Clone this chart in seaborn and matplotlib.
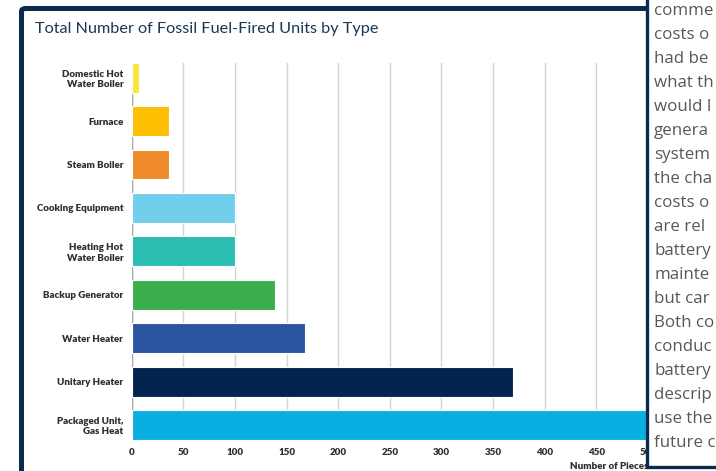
import matplotlib
matplotlib.use("Agg")
import matplotlib.pyplot as plt
import seaborn as sns
import pandas as pd
from matplotlib.patches import Rectangle, FancyBboxPatch

# ---- data ----
categories = ["Domestic Hot\nWater Boiler", "Furnace", "Steam Boiler", "Cooking Equipment",
              "Heating Hot\nWater Boiler", "Backup Generator", "Water Heater",
              "Unitary Heater", "Packaged Unit,\nGas Heat"]
counts = [7, 36, 36, 100, 100, 139, 168, 369, 498]
bar_colors = ["#f8e63c", "#fdbf00", "#ef8b2a", "#72cfec", "#2bbdb1", "#3aae4c",
              "#2b55a3", "#03244e", "#0aafe1"]
x_ticks = [0, 50, 100, 150, 200, 250, 300, 350, 400, 450, 500]
title = "Total Number of Fossil Fuel-Fired Units by Type"
x_title = "Number of Pieces"
side_lines = ["comme", "costs o", "had be", "what th", "would l",
              "genera", "system", "the cha", "costs o", "are rel",
              "battery", "mainte", "but car", "Both co", "conduc",
              "battery", "descrip", "use the", "future c"]

NAVY = "#0a2a50"
W, H = 716, 471

sns.set_theme(style="white")
plt.rcParams["font.family"] = ["Lato", "DejaVu Sans"]

fig = plt.figure(figsize=(W / 100, H / 100), dpi=100)
fig.patch.set_facecolor("white")

ax_left, ax_right, ax_top, ax_bottom = 131.7, 648.0, 62.7, 440.0
ax = fig.add_axes([ax_left / W, 1 - ax_bottom / H, (ax_right - ax_left) / W, (ax_bottom - ax_top) / H])

df = pd.DataFrame({"cat": categories, "n": counts})
sns.barplot(data=df, y="cat", x="n", hue="cat", palette=bar_colors, width=0.69,
            legend=False, ax=ax, saturation=1, edgecolor="white", linewidth=0.8, zorder=3)

ax.set_xlim(0, 500)
ax.set_ylim(8.345, -0.345)
ax.set_xticks(x_ticks)
ax.grid(axis="x", color="#d4d4d4", linewidth=1.0, zorder=0)
ax.grid(axis="y", visible=False)
ax.set_axisbelow(True)
ax.axvline(0, color="#a8a8a8", linewidth=1.0, zorder=1)
for s in ax.spines.values():
    s.set_visible(False)
ax.tick_params(axis="both", length=0, labelsize=7, labelcolor="#2e2e2e")
ax.tick_params(axis="y", pad=6)
ax.tick_params(axis="x", pad=5.5)
for lab in ax.get_yticklabels() + ax.get_xticklabels():
    lab.set_fontweight("heavy")
ax.set_ylabel("")
ax.set_xlabel(x_title, loc="right", fontsize=7, fontweight="heavy", color="#2e2e2e", labelpad=4)

# title
fig.text(35 / W, 1 - 28.5 / H, title, fontsize=11.7, color="#183858", va="center", ha="left")

# outer frame of the chart card
frame = FancyBboxPatch((21.5 / W, -0.1), 1.0, (1 - 8.5 / H) + 0.1,
                       boxstyle="round,pad=0,rounding_size=0.006",
                       transform=fig.transFigure, facecolor="none",
                       edgecolor=NAVY, linewidth=3.6, zorder=4)
fig.add_artist(frame)

# overlapping text panel on the right
panel = Rectangle((646.5 / W, 1 - 466.5 / H), 0.3, 0.3 + 466.5 / H,
                  transform=fig.transFigure, facecolor="white",
                  edgecolor=NAVY, linewidth=2.4, zorder=5)
fig.add_artist(panel)
for i, line in enumerate(side_lines):
    fig.text(654 / W, 1 - (11 + 24 * i) / H, line, fontsize=12.2, color="#585858",
             family=["Open Sans", "DejaVu Sans"], ha="left", va="center", zorder=6)

fig.savefig("out.png", dpi=100)
